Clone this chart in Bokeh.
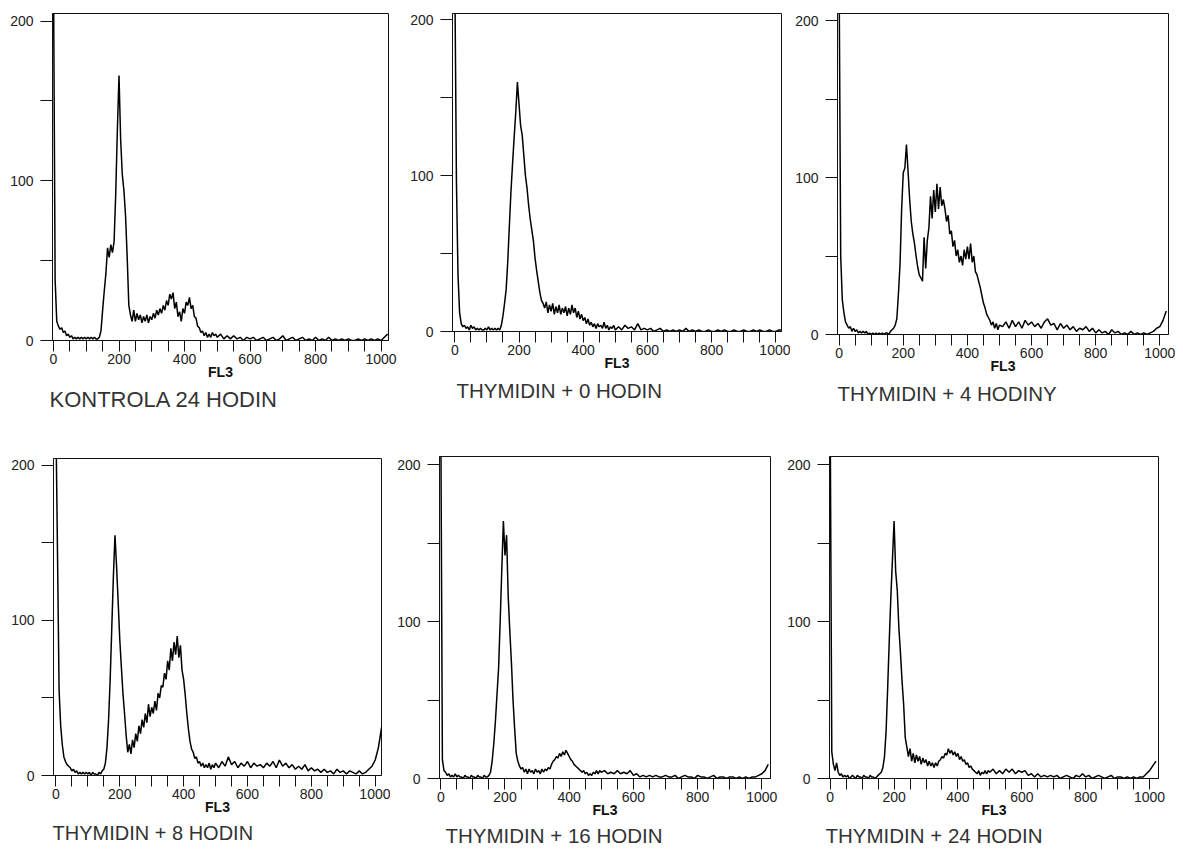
from bokeh.plotting import figure
from bokeh.layouts import column, row
from bokeh.models import FixedTicker, Title, Range1d
from bokeh.embed import file_html
from bokeh.resources import INLINE

# FL3 channel grid (histogram read at every 5 channels up to 500, every 10 above)
CH_LOW = list(range(0, 505, 5))
CH_HIGH = list(range(510, 1030, 10))
CHANNELS = CH_LOW + CH_HIGH

TITLES = ["KONTROLA 24 HODIN", "THYMIDIN + 0 HODIN", "THYMIDIN + 4 HODINY",
          "THYMIDIN + 8 HODIN", "THYMIDIN + 16 HODIN", "THYMIDIN + 24 HODIN"]

X_TICKS = [0, 200, 400, 600, 800, 1000]
X_MINOR = [50, 100, 150, 250, 300, 350, 450, 500, 550, 650, 700, 750, 850, 900, 950]
Y_TICKS = [0, 100, 200]
Y_MINOR = [50, 150]

# counts per channel
KONTROLA_24_LOW = [
    230, 38, 12, 9, 7, 8, 5, 6, 3, 4,
    2, 3, 1, 2, 1, 2, 1, 2, 1, 2,
    1, 2, 1, 2, 1, 2, 1, 1, 2, 6,
    19, 31, 42, 58, 52, 60, 55, 62, 92, 132,
    166, 126, 104, 94, 78, 52, 22, 16, 12, 19,
    12, 17, 13, 16, 11, 15, 12, 16, 11, 15,
    13, 17, 14, 19, 16, 20, 17, 22, 19, 25,
    22, 29, 26, 30, 20, 24, 15, 18, 12, 20,
    17, 24, 22, 27, 20, 22, 15, 14, 9, 8,
    5, 6, 3, 5, 2, 4, 2, 5, 3, 4,
    2]
KONTROLA_24_HIGH = [
    4, 1, 3, 1, 3, 1, 2, 0, 2, 1,
    2, 0, 1, 2, 0, 1, 2, 0, 1, 3,
    0, 1, 2, 0, 1, 2, 0, 1, 0, 2,
    0, 1, 0, 2, 0, 1, 0, 1, 0, 1,
    0, 0, 1, 0, 1, 0, 1, 0, 1, 0,
    2, 4]

THY_0_LOW = [
    230, 97, 36, 12, 5, 3, 4, 2, 3, 1,
    4, 2, 3, 1, 2, 1, 2, 1, 1, 2,
    1, 3, 1, 2, 1, 2, 1, 2, 1, 4,
    10, 18, 27, 45, 68, 90, 108, 125, 141, 160,
    146, 132, 126, 113, 100, 92, 81, 72, 65, 58,
    47, 39, 32, 25, 20, 18, 15, 19, 12, 17,
    13, 18, 11, 16, 12, 17, 11, 15, 12, 16,
    10, 15, 11, 17, 12, 15, 9, 13, 8, 11,
    7, 9, 5, 8, 4, 6, 3, 5, 2, 5,
    3, 4, 2, 6, 2, 4, 1, 3, 2, 4,
    1]
THY_0_HIGH = [
    3, 1, 4, 2, 3, 1, 5, 1, 2, 1,
    2, 0, 1, 2, 0, 1, 0, 1, 0, 1,
    0, 2, 0, 1, 0, 1, 0, 0, 1, 0,
    0, 1, 0, 1, 0, 0, 1, 0, 0, 1,
    0, 0, 1, 0, 1, 0, 0, 1, 0, 0,
    1, 1]

THY_4_LOW = [
    230, 50, 22, 14, 8, 6, 4, 5, 2, 4,
    2, 3, 1, 2, 1, 2, 1, 2, 0, 1,
    0, 1, 0, 1, 0, 1, 0, 1, 0, 1,
    1, 0, 2, 3, 4, 6, 10, 26, 45, 80,
    103, 106, 121, 104, 86, 72, 64, 58, 50, 43,
    38, 36, 34, 62, 42, 60, 68, 88, 74, 92,
    78, 96, 80, 94, 82, 86, 80, 72, 76, 64,
    66, 56, 60, 50, 54, 46, 50, 44, 54, 48,
    56, 48, 58, 46, 50, 40, 38, 34, 30, 25,
    20, 17, 13, 11, 9, 6, 8, 4, 7, 3,
    6]
THY_4_HIGH = [
    5, 8, 4, 9, 5, 8, 4, 9, 6, 8,
    5, 7, 4, 8, 10, 6, 7, 3, 7, 4,
    6, 3, 5, 2, 4, 3, 5, 2, 4, 1,
    3, 1, 2, 0, 3, 1, 2, 0, 1, 0,
    2, 0, 1, 0, 1, 0, 1, 2, 4, 5,
    9, 15]

THY_8_LOW = [
    230, 144, 55, 32, 20, 12, 9, 7, 6, 5,
    3, 4, 2, 3, 1, 2, 1, 2, 1, 2,
    1, 2, 0, 2, 1, 1, 0, 2, 1, 3,
    4, 8, 18, 36, 62, 95, 128, 155, 135, 112,
    88, 70, 53, 40, 26, 15, 20, 14, 23, 18,
    27, 22, 32, 27, 36, 31, 40, 34, 46, 38,
    44, 40, 48, 42, 53, 50, 58, 57, 66, 62,
    74, 68, 82, 74, 86, 78, 90, 76, 84, 68,
    62, 52, 40, 30, 22, 17, 15, 11, 12, 8,
    9, 6, 8, 5, 7, 5, 8, 4, 7, 5,
    8]
THY_8_HIGH = [
    5, 9, 6, 12, 7, 9, 5, 8, 6, 9,
    5, 8, 6, 7, 5, 8, 6, 9, 5, 10,
    6, 8, 5, 7, 4, 6, 4, 7, 3, 5,
    3, 4, 2, 4, 2, 3, 1, 4, 2, 3,
    1, 3, 2, 1, 3, 1, 2, 4, 6, 10,
    18, 31]

THY_16_LOW = [
    230, 12, 5, 4, 2, 3, 1, 2, 1, 3,
    1, 2, 1, 1, 0, 2, 1, 1, 0, 2,
    1, 1, 0, 2, 1, 1, 0, 2, 1, 1,
    2, 4, 11, 22, 36, 53, 70, 100, 133, 164,
    142, 155, 116, 94, 74, 50, 32, 16, 11, 8,
    6, 7, 4, 6, 3, 6, 4, 5, 3, 6,
    4, 5, 3, 6, 4, 6, 5, 7, 6, 9,
    11, 12, 14, 13, 16, 14, 17, 15, 18, 16,
    14, 12, 11, 9, 8, 7, 6, 5, 4, 5,
    3, 4, 2, 3, 2, 4, 3, 5, 3, 5,
    4]
THY_16_HIGH = [
    5, 3, 4, 3, 5, 3, 4, 3, 5, 2,
    3, 1, 2, 1, 2, 1, 2, 1, 1, 2,
    1, 1, 2, 0, 1, 2, 1, 1, 0, 2,
    1, 1, 0, 1, 2, 0, 1, 1, 0, 1,
    1, 0, 1, 0, 1, 0, 1, 1, 2, 3,
    5, 9]

THY_24_LOW = [
    230, 17, 9, 5, 10, 4, 2, 3, 1, 2,
    1, 2, 0, 1, 2, 1, 0, 2, 1, 1,
    0, 2, 1, 1, 0, 2, 1, 1, 0, 1,
    2, 3, 4, 7, 14, 30, 58, 88, 116, 140,
    164, 132, 120, 96, 80, 62, 47, 26, 20, 14,
    19, 11, 16, 10, 15, 11, 14, 9, 13, 10,
    12, 8, 11, 8, 10, 7, 10, 8, 11, 12,
    14, 13, 16, 15, 19, 16, 18, 15, 17, 14,
    16, 12, 14, 11, 12, 9, 10, 7, 8, 6,
    5, 4, 3, 5, 2, 4, 3, 5, 3, 5,
    4]
THY_24_HIGH = [
    6, 3, 5, 3, 6, 4, 6, 3, 5, 4,
    5, 2, 3, 1, 3, 1, 2, 1, 2, 1,
    2, 0, 1, 2, 1, 0, 2, 1, 3, 1,
    2, 0, 1, 2, 1, 0, 1, 2, 0, 1,
    1, 0, 1, 0, 1, 0, 1, 1, 3, 5,
    8, 11]

SERIES = [
    KONTROLA_24_LOW + KONTROLA_24_HIGH,
    THY_0_LOW + THY_0_HIGH,
    THY_4_LOW + THY_4_HIGH,
    THY_8_LOW + THY_8_HIGH,
    THY_16_LOW + THY_16_HIGH,
    THY_24_LOW + THY_24_HIGH,
]

# layout: width, height, border left/right/top/bottom, x range, y top, title offset/standoff/size
LAYOUT = [
    dict(w=398, h=440, bl=52, br=10, bt=13, bb=100, x0=-3.0, x1=1022.6, y1=204.8, to=-3, ts=4, fs="22px"),
    dict(w=392, h=440, bl=54, br=9, bt=13, bb=109, x0=-7.2, x1=1017.8, y1=204.0, to=4, ts=6, fs="20.5px"),
    dict(w=385, h=440, bl=47, br=7, bt=13, bb=106, x0=-5.0, x1=1027.0, y1=204.5, to=0, ts=6, fs="20.5px"),
    dict(w=390, h=410, bl=53, br=9, bt=18, bb=75, x0=-7.5, x1=1019.7, y1=204.5, to=-1, ts=5, fs="20px"),
    dict(w=389, h=410, bl=49, br=9, bt=16, bb=72, x0=-4.0, x1=1027.0, y1=205.1, to=6, ts=3, fs="20.5px"),
    dict(w=396, h=410, bl=50, br=17, bt=16, bb=72, x0=-2.2, x1=1028.0, y1=205.1, to=-4, ts=2, fs="20.5px"),
]

FONT = "Liberation Sans"


def make_panel(title, values, L):
    p = figure(width=L["w"], height=L["h"], output_backend="svg", toolbar_location=None,
               title=None, x_range=Range1d(L["x0"], L["x1"]), y_range=Range1d(0, L["y1"]),
               min_border_left=L["bl"], min_border_right=L["br"],
               min_border_top=L["bt"], min_border_bottom=L["bb"])
    p.background_fill_color = "white"
    p.border_fill_color = "white"
    p.outline_line_color = "#111111"
    p.outline_line_width = 1
    p.grid.visible = False

    p.line(CHANNELS, values, line_color="black", line_width=1.5)

    xa = p.xaxis[0]
    xa.ticker = FixedTicker(ticks=X_TICKS, minor_ticks=X_MINOR)
    xa.axis_line_color = "#111111"
    xa.major_tick_line_color = "#111111"
    xa.minor_tick_line_color = "#111111"
    xa.major_tick_out = 11
    xa.major_tick_in = 0
    xa.minor_tick_out = 11
    xa.minor_tick_in = 0
    xa.major_label_text_font = FONT
    xa.major_label_text_font_size = "14px"
    xa.major_label_text_color = "#222222"
    xa.major_label_standoff = 2
    xa.axis_label = "FL3"
    xa.axis_label_text_font = FONT
    xa.axis_label_text_font_size = "14px"
    xa.axis_label_text_font_style = "bold"
    xa.axis_label_text_color = "#111111"
    xa.axis_label_standoff = -3

    ya = p.yaxis[0]
    ya.ticker = FixedTicker(ticks=Y_TICKS, minor_ticks=Y_MINOR)
    ya.axis_line_color = "#111111"
    ya.major_tick_line_color = "#111111"
    ya.minor_tick_line_color = "#111111"
    ya.major_tick_out = 12
    ya.major_tick_in = 0
    ya.minor_tick_out = 12
    ya.minor_tick_in = 0
    ya.major_label_text_font = FONT
    ya.major_label_text_font_size = "14px"
    ya.major_label_text_color = "#222222"
    ya.major_label_standoff = 7

    p.add_layout(Title(text=title, align="left", offset=L["to"], standoff=L["ts"],
                       text_font=FONT, text_font_size=L["fs"], text_font_style="normal",
                       text_color="#333333"), "below")
    return p


panels = [make_panel(t, v, L) for t, v, L in zip(TITLES, SERIES, LAYOUT)]
# each panel wrapped in its own column so that the row does not align plot frames
boxes = [column(p, spacing=0) for p in panels]
layout = column(row(*boxes[:3], spacing=0), row(*boxes[3:], spacing=0), spacing=0)

open("out.html", "w").write(file_html(layout, INLINE))
